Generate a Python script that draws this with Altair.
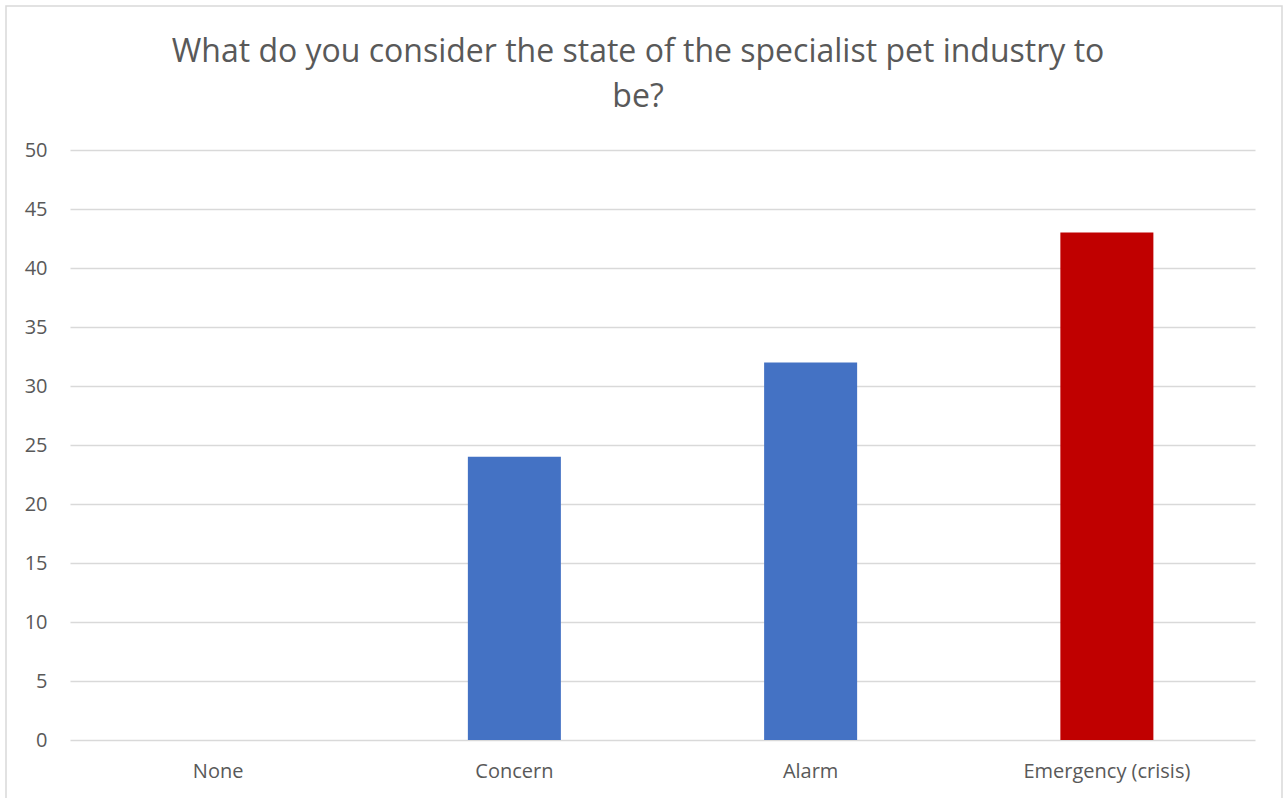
import altair as alt
import pandas as pd

title_lines = ["What do you consider the state of the specialist pet industry to", "be?"]
categories = ["None", "Concern", "Alarm", "Emergency (crisis)"]
values = [0, 24, 32, 43]
colors = ["#4472C4", "#4472C4", "#4472C4", "#C00000"]

df = pd.DataFrame({"category": categories, "value": values, "color": colors})
title_df = pd.DataFrame({"id": [0]})

FONT = "Open Sans"

bars = alt.Chart(df).mark_bar().encode(
    x=alt.X("category:N", sort=categories, title=None,
            scale=alt.Scale(paddingInner=0.686, paddingOuter=0.343),
            axis=alt.Axis(labelAngle=0, labelFontSize=20, labelColor="#595959",
                          labelFont=FONT, ticks=False, domain=False, labelPadding=21,
                          grid=False)),
    y=alt.Y("value:Q", title=None,
            scale=alt.Scale(domain=[0, 50], nice=False),
            axis=alt.Axis(values=list(range(0, 51, 5)), labelFontSize=20,
                          labelColor="#595959", labelFont=FONT, ticks=False,
                          domain=False, labelPadding=23, gridColor="#d9d9d9",
                          gridWidth=1.5)),
    color=alt.Color("color:N", scale=None),
)

border = alt.Chart(title_df).mark_rect(fill=None, stroke="#d9d9d9", strokeWidth=1.5).encode(
    x=alt.value(-64), x2=alt.value(1212), y=alt.value(-144), y2=alt.value(660)
)

title = alt.Chart(title_df).mark_text(
    font=FONT, fontSize=32, color="#595959", align="center",
    baseline="alphabetic", lineHeight=45,
).encode(
    x=alt.value(568), y=alt.value(-88), text=alt.value(title_lines)
)

chart = alt.layer(bars, border, title).properties(
    width=1185, height=590,
    autosize=alt.AutoSizeParams(type="none"),
    padding={"left": 70, "top": 150, "right": 29, "bottom": 58},
).configure(background="white").configure_view(stroke=None)

chart.save("out.html", embed_options={"renderer": "svg", "actions": False})
